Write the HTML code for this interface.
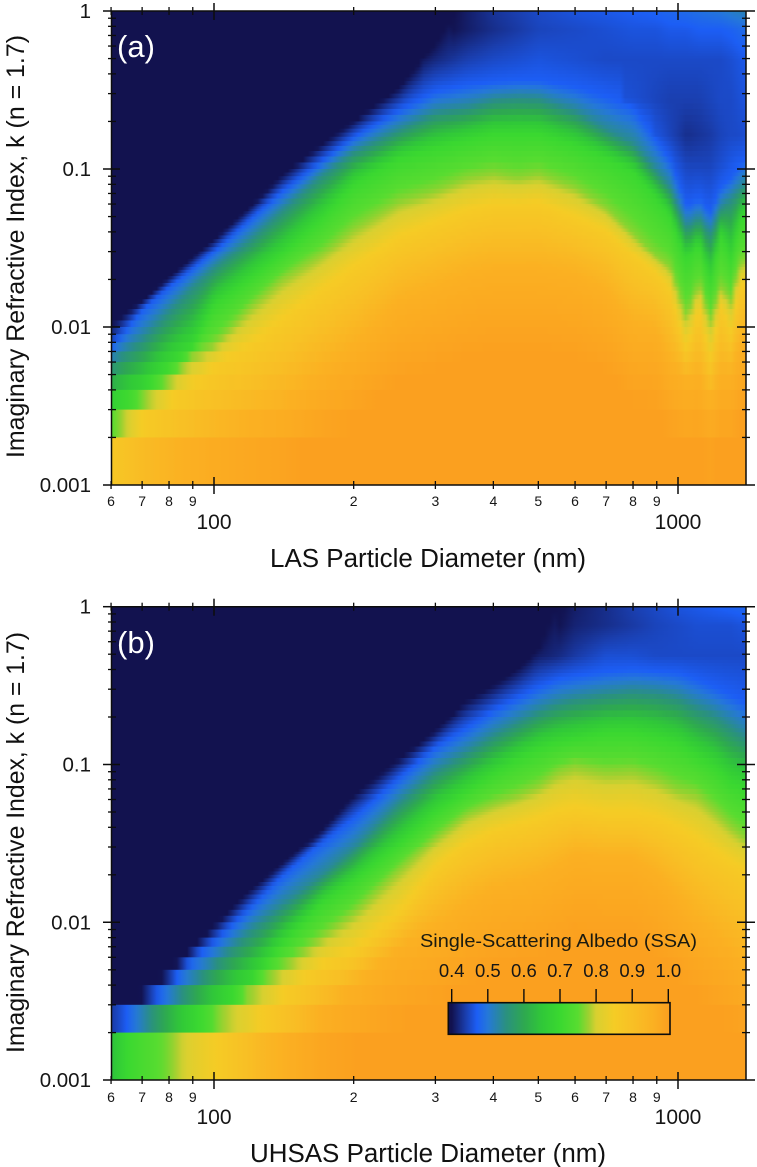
<!DOCTYPE html>
<html lang="en">
<head>
<meta charset="utf-8">
<title>Single-Scattering Albedo vs Particle Diameter and Refractive Index</title>
<style>
html,body{margin:0;padding:0;background:#fff;}
#figure{display:block;width:757px;height:1167px;font-family:"Liberation Sans",sans-serif;}
</style>
</head>
<body>
<svg id="figure" xmlns="http://www.w3.org/2000/svg" width="757" height="1167" viewBox="0 0 757 1167">
  <defs id="gradients"></defs>
  <g id="panel-a"></g>
  <g id="panel-b"></g>
  <text x="117" y="57" font-size="31" fill="#fff">(a)</text>
  <text x="117" y="653" font-size="31" fill="#fff">(b)</text>
  <text x="428" y="567" font-size="25.5" text-anchor="middle" textLength="316" lengthAdjust="spacingAndGlyphs" fill="#111">LAS Particle Diameter (nm)</text>
  <text x="428" y="1162" font-size="25.5" text-anchor="middle" textLength="356" lengthAdjust="spacingAndGlyphs" fill="#111">UHSAS Particle Diameter (nm)</text>
  <text transform="translate(24 246.5) rotate(-90)" font-size="25" text-anchor="middle" textLength="423" lengthAdjust="spacingAndGlyphs" fill="#111">Imaginary Refractive Index, k (n = 1.7)</text>
  <text transform="translate(24 842.5) rotate(-90)" font-size="25" text-anchor="middle" textLength="421" lengthAdjust="spacingAndGlyphs" fill="#111">Imaginary Refractive Index, k (n = 1.7)</text>
  <g id="legend">
    <text x="558.5" y="947" font-size="18.5" text-anchor="middle" textLength="277" lengthAdjust="spacingAndGlyphs" fill="#1a1a10">Single-Scattering Albedo (SSA)</text>
  </g>
</svg>
<script>
// ---- axis tick data ----
const xMajorTicks = [100, 1000];
const xMajorLabels = ["100", "1000"];
const xMinorTicks = [60, 70, 80, 90, 200, 300, 400, 500, 600, 700, 800, 900];
const xMinorLabels = ["6", "7", "8", "9", "2", "3", "4", "5", "6", "7", "8", "9"];
const yMajorTicks = [1, 0.1, 0.01, 0.001];
const yMajorLabels = ["1", "0.1", "0.01", "0.001"];
const yMinorTicks = [0.9, 0.8, 0.7, 0.6, 0.5, 0.4, 0.3, 0.2, 0.09, 0.08, 0.07, 0.06, 0.05, 0.04, 0.03, 0.02, 0.009, 0.008, 0.007, 0.006, 0.005, 0.004, 0.003, 0.002];

// ---- colour scale: SSA level -> colour ----
const colorLevels = [0.40, 0.44, 0.47, 0.50, 0.55, 0.60, 0.65, 0.70, 0.75, 0.78, 0.80, 0.85, 0.90, 0.96, 1.00];
const colorValues = ["#12124f", "#1a3fb0", "#1c5ef5", "#2578d8", "#2a9080", "#2ea850", "#30c838", "#3ad830", "#58dc30", "#a0d030", "#d8d030", "#f5cc25", "#f8c025", "#fbb022", "#fba01f"];
const legendTicks = [0.4, 0.5, 0.6, 0.7, 0.8, 0.9, 1.0];
const legendLabels = ["0.4", "0.5", "0.6", "0.7", "0.8", "0.9", "1.0"];

// ---- Panel (a) LAS: log10(k) at which SSA reaches each level, per diameter ----
const diameterA = [60,70,80,90,100,120,140,170,200,250,300,350,400,450,500,600,700,800,900,960,1045,1110,1172,1240,1306,1350,1400];
const logK96A = [-3.47,-3.22,-3.09,-2.97,-2.87,-2.715,-2.59,-2.335,-2.145,-1.86,-1.765,-1.68,-1.64,-1.64,-1.64,-1.68,-1.785,-2.0,-2.04,-2.25,-2.40,-2.35,-2.55,-2.35,-2.35,-2.19,-2.08];
const logK86A = [-2.95,-2.72,-2.56,-2.43,-2.30,-2.16,-1.99,-1.80,-1.65,-1.45,-1.355,-1.28,-1.24,-1.24,-1.23,-1.32,-1.405,-1.56,-1.68,-1.785,-2.19,-1.89,-2.255,-1.89,-2.08,-1.785,-1.75];
const logK77A = [-2.76,-2.53,-2.385,-2.21,-2.14,-1.88,-1.70,-1.54,-1.37,-1.2,-1.13,-1.05,-1.02,-1.05,-1.025,-1.11,-1.24,-1.405,-1.56,-1.62,-1.955,-1.72,-1.975,-1.75,-1.85,-1.62,-1.58];
const logK70A = [-2.58,-2.45,-2.28,-2.15,-1.88,-1.70,-1.545,-1.32,-1.10,-0.94,-0.87,-0.82,-0.78,-0.78,-0.78,-0.85,-0.93,-1.02,-1.19,-1.30,-1.59,-1.47,-1.72,-1.42,-1.59,-1.355,-1.28];
const logK54A = [-2.26,-2.10,-1.91,-1.75,-1.63,-1.44,-1.26,-1.04,-0.89,-0.75,-0.64,-0.61,-0.56,-0.545,-0.55,-0.63,-0.75,-0.835,-1.01,-1.11,-1.37,-1.30,-1.405,-1.24,-1.18,-1.13,-1.09];
const logK47A = [-2.155,-1.91,-1.76,-1.64,-1.525,-1.315,-1.145,-0.955,-0.80,-0.63,-0.51,-0.47,-0.45,-0.44,-0.44,-0.48,-0.54,-0.61,-0.82,-0.94,-1.24,-1.18,-1.28,-1.11,-1.05,-0.99,-0.94];
const logK40A = [-2.01,-1.85,-1.70,-1.57,-1.45,-1.24,-1.045,-0.85,-0.70,-0.49,-0.215,0.1,0.3,0.5,0.5,0.5,0.5,0.5,0.5,0.5,0.5,0.5,0.5,0.5,0.5,0.5,0.5];
// SSA read directly in the blue upper region, at fixed k rows
const topKA = [1, 0.76, 0.49, 0.275, 0.164, 0.106];
const ssaTop1A = [0.3,0.3,0.3,0.3,0.3,0.3,0.3,0.3,0.3,0.3,0.38,0.41,0.43,0.44,0.45,0.46,0.465,0.47,0.475,0.48,0.485,0.49,0.495,0.50,0.51,0.515,0.52];
const ssaTop2A = [0.3,0.3,0.3,0.3,0.3,0.3,0.3,0.3,0.3,0.3,0.39,0.41,0.425,0.435,0.445,0.45,0.455,0.46,0.46,0.465,0.465,0.47,0.47,0.47,0.475,0.48,0.485];
const ssaTop3A = [0.3,0.3,0.3,0.3,0.3,0.3,0.3,0.3,0.3,0.38,0.42,0.44,0.45,0.455,0.46,0.455,0.45,0.45,0.45,0.45,0.45,0.45,0.45,0.45,0.455,0.46,0.465];
const ssaTop4A = [0.3,0.3,0.3,0.3,0.3,0.3,0.3,0.3,0.3,0.3,0.46,0.46,0.46,0.46,0.46,0.46,0.46,0.455,0.445,0.44,0.44,0.44,0.445,0.45,0.45,0.455,0.46];
const ssaTop5A = [0.3,0.3,0.3,0.3,0.3,0.3,0.3,0.3,0.3,0.3,0.46,0.46,0.46,0.46,0.46,0.46,0.46,0.46,0.46,0.445,0.425,0.43,0.435,0.445,0.45,0.45,0.455];
const ssaTop6A = [0.3,0.3,0.3,0.3,0.3,0.3,0.3,0.3,0.3,0.3,0.46,0.46,0.46,0.46,0.46,0.46,0.46,0.46,0.46,0.47,0.445,0.445,0.445,0.455,0.465,0.47,0.47];

// ---- Panel (b) UHSAS ----
const diameterB = [60,70,80,90,100,120,140,170,200,250,300,350,400,450,500,550,600,700,800,900,1000,1100,1200,1300,1400];
const logK96B = [-3.95,-3.85,-3.75,-3.6,-3.4,-3.2,-3.02,-2.68,-2.47,-2.2,-2.05,-1.9,-1.8,-1.76,-1.72,-1.65,-1.58,-1.6,-1.6,-1.7,-1.85,-2.0,-2.1,-2.2,-2.3];
const logK86B = [-3.5,-3.35,-3.22,-3.12,-3.05,-2.80,-2.55,-2.33,-2.23,-1.98,-1.68,-1.52,-1.44,-1.40,-1.36,-1.32,-1.30,-1.33,-1.33,-1.36,-1.42,-1.5,-1.58,-1.65,-1.70];
const logK77B = [-3.3,-3.13,-3.01,-2.87,-2.73,-2.50,-2.33,-2.12,-1.95,-1.67,-1.46,-1.31,-1.24,-1.19,-1.13,-1.04,-1.0,-1.04,-1.03,-1.08,-1.15,-1.18,-1.28,-1.38,-1.46];
const logK70B = [-3.08,-2.93,-2.83,-2.73,-2.62,-2.43,-2.17,-1.9,-1.75,-1.51,-1.30,-1.17,-1.06,-0.97,-0.90,-0.86,-0.84,-0.80,-0.80,-0.83,-0.87,-0.95,-1.02,-1.12,-1.16];
const logK54B = [-2.88,-2.73,-2.59,-2.44,-2.30,-2.07,-1.91,-1.72,-1.54,-1.24,-1.04,-0.92,-0.81,-0.73,-0.66,-0.61,-0.58,-0.55,-0.53,-0.54,-0.57,-0.63,-0.68,-0.75,-0.82];
const logK47B = [-2.78,-2.62,-2.46,-2.27,-2.155,-1.92,-1.72,-1.5,-1.34,-1.09,-0.89,-0.77,-0.66,-0.58,-0.51,-0.46,-0.44,-0.41,-0.40,-0.41,-0.42,-0.46,-0.51,-0.56,-0.61];
const logK40B = [-2.62,-2.52,-2.35,-2.19,-2.05,-1.81,-1.64,-1.43,-1.20,-0.97,-0.79,-0.60,-0.50,-0.40,-0.28,0.02,0.3,0.5,0.5,0.5,0.5,0.5,0.5,0.5,0.5];
const topKB = [1, 0.76, 0.49];
const ssaTop1B = [0.3,0.3,0.3,0.3,0.3,0.3,0.3,0.3,0.3,0.3,0.3,0.3,0.3,0.3,0.38,0.395,0.41,0.425,0.44,0.45,0.46,0.465,0.47,0.475,0.48];
const ssaTop2B = [0.3,0.3,0.3,0.3,0.3,0.3,0.3,0.3,0.3,0.3,0.3,0.3,0.3,0.3,0.385,0.40,0.415,0.425,0.435,0.445,0.45,0.455,0.455,0.455,0.46];
const ssaTop3B = [0.3,0.3,0.3,0.3,0.3,0.3,0.3,0.3,0.3,0.3,0.3,0.3,0.3,0.38,0.41,0.42,0.435,0.455,0.455,0.45,0.45,0.45,0.45,0.45,0.45];

const contourLevels = [0.96, 0.86, 0.77, 0.70, 0.54, 0.47, 0.40];

// ---- scales ----
const NS = "http://www.w3.org/2000/svg";
const xLeft = 111.5, xRight = 746;
function xScale(d) { return 214 + 464 * Math.log10(d / 100); }
function xScaleInv(x) { return 100 * Math.pow(10, (x - 214) / 464); }
function yScaleFor(top, perDecade) { return function (k) { return top - perDecade * Math.log10(k); }; }
function legendX(v) { return 451.7 + (v - 0.4) * (668.3 - 451.7) / 0.6; }

function hexToRgb(h) { return [parseInt(h.substr(1, 2), 16), parseInt(h.substr(3, 2), 16), parseInt(h.substr(5, 2), 16)]; }
const colorRgb = colorValues.map(hexToRgb);
function ssaColor(s) {
  if (s <= colorLevels[0]) return colorValues[0];
  const n = colorLevels.length;
  if (s >= colorLevels[n - 1]) return colorValues[n - 1];
  let i = 0;
  while (s > colorLevels[i + 1]) i++;
  const t = (s - colorLevels[i]) / (colorLevels[i + 1] - colorLevels[i]);
  const a = colorRgb[i], b = colorRgb[i + 1];
  return "rgb(" + Math.round(a[0] + (b[0] - a[0]) * t) + "," + Math.round(a[1] + (b[1] - a[1]) * t) + "," + Math.round(a[2] + (b[2] - a[2]) * t) + ")";
}

function interpAcross(logDs, values, lg) {
  let i = 0;
  while (i < logDs.length - 2 && lg > logDs[i + 1]) i++;
  const t = (lg - logDs[i]) / (logDs[i + 1] - logDs[i]);
  return values[i] + (values[i + 1] - values[i]) * t;
}

// vertical SSA profile at one diameter: knots sorted by log10(k)
function columnKnots(panel, lg) {
  const c96 = interpAcross(panel.logDs, panel.contours[0], lg);
  const knots = [{ lk: c96 - 0.55, s: 1 }];
  const c47 = interpAcross(panel.logDs, panel.contours[5], lg);
  const c40 = interpAcross(panel.logDs, panel.contours[6], lg);
  contourLevels.forEach(function (level, i) {
    knots.push({ lk: interpAcross(panel.logDs, panel.contours[i], lg), s: level });
  });
  panel.topK.forEach(function (k, i) {
    const lk = Math.log10(k);
    const v = interpAcross(panel.logDs, panel.top[i], lg);
    if (lk <= c47 + 0.02) return;
    if (v < 0.40 && lk < c40) return;
    if (v > 0.40 && lk > c40) return;
    knots.push({ lk: lk, s: v });
  });
  knots.sort(function (a, b) { return a.lk - b.lk; });
  return knots;
}
function evalKnots(knots, lk) {
  if (lk <= knots[0].lk) return knots[0].s;
  for (let i = 0; i < knots.length - 1; i++) {
    if (lk <= knots[i + 1].lk) {
      const t = (lk - knots[i].lk) / (knots[i + 1].lk - knots[i].lk);
      return knots[i].s + (knots[i + 1].s - knots[i].s) * t;
    }
  }
  return knots[knots.length - 1].s;
}

function svgEl(tag, attrs) {
  const el = document.createElementNS(NS, tag);
  for (const key in attrs) el.setAttribute(key, attrs[key]);
  return el;
}

const defs = document.getElementById("gradients");

function drawHeatmap(group, panel, yScale) {
  const logDmin = Math.log10(xScaleInv(xLeft)), logDmax = Math.log10(xScaleInv(xRight));
  const N = 126;
  const columns = [];
  for (let i = 0; i <= N; i++) {
    columns.push(columnKnots(panel, logDmin + (logDmax - logDmin) * i / N));
  }
  const rows = [];
  let m = 1;
  while (m < 1000) {
    const step = m < 30 ? 1 : m < 60 ? 2 : m < 100 ? 5 : m < 200 ? 10 : 20;
    rows.push([m / 1000, Math.min(m + step, 1000) / 1000]);
    m += step;
  }
  const heat = svgEl("g", {});
  
  
  for (let r = rows.length - 1; r >= 0; r--) {
    const lo = rows[r][0], hi = rows[r][1];
    const sampleK = lo < 0.03 ? lo : Math.sqrt(lo * hi);
    const id = panel.name + "-row-" + r;
    const grad = svgEl("linearGradient", { id: id, gradientUnits: "userSpaceOnUse", x1: xLeft, x2: xRight, y1: 0, y2: 0 });
    for (let i = 0; i <= N; i++) {
      const s = evalKnots(columns[i], Math.log10(sampleK));
      grad.appendChild(svgEl("stop", { offset: (i / N).toFixed(4), "stop-color": ssaColor(s) }));
    }
    defs.appendChild(grad);
    const yTop = yScale(hi), yBot = yScale(lo);
    const extra = r === 0 ? 0 : 1;
    const rect = svgEl("rect", { x: xLeft, y: yTop.toFixed(2), width: xRight - xLeft, height: (yBot - yTop + extra).toFixed(2), fill: "url(#" + id + ")" });
    
    
    heat.appendChild(rect);
  }
  group.appendChild(heat);
}

function line(group, x1, y1, x2, y2, w, name) {
  const l = svgEl("line", { x1: x1, y1: y1, x2: x2, y2: y2, stroke: "#0c0c0c", "stroke-width": w });
  
  
  group.appendChild(l);
}
function label(group, x, y, txt, size, anchor, name) {
  const t = svgEl("text", { x: x, y: y, "font-size": size, "text-anchor": anchor, fill: "#161616" });
  t.textContent = txt;
  
  
  group.appendChild(t);
}

function drawAxes(group, yScale, top, bottom, minorBase, majorBase) {
  line(group, xLeft, top, 755, top, 1.5, "top-axis-line");
  line(group, 103, bottom, 755, bottom, 1.5, "bottom-axis-line");
  line(group, xLeft, top, xLeft, bottom, 1.5, "left-axis-line");
  line(group, xRight, top, xRight, bottom, 1.5, "right-axis-line");
  line(group, 103, top, xLeft, top, 1.5, "y-tick-1");
  xMinorTicks.forEach(function (d, i) {
    const x = xScale(d);
    line(group, x, top - 4, x, top + 4, 1.3, "x-minor-tick-top");
    line(group, x, bottom - 4, x, bottom + 4, 1.3, "x-minor-tick-bottom");
    label(group, x, minorBase, xMinorLabels[i], 14, "middle", "x-minor-tick-label");
  });
  xMajorTicks.forEach(function (d, i) {
    const x = xScale(d);
    line(group, x, top - 8, x, top + 9, 1.5, "x-major-tick-top");
    line(group, x, bottom - 8, x, bottom + 9, 1.5, "x-major-tick-bottom");
    label(group, x, majorBase, xMajorLabels[i], 21, "middle", "x-major-tick-label");
  });
  yMinorTicks.forEach(function (k) {
    const y = yScale(k);
    line(group, 108, y, 116, y, 1.3, "y-minor-tick-left");
    line(group, 742, y, 750, y, 1.3, "y-minor-tick-right");
  });
  yMajorTicks.forEach(function (k, i) {
    const y = yScale(k);
    if (k !== 1 && k !== 0.001) {
      line(group, 103, y, 120, y, 1.5, "y-major-tick-left");
      line(group, 737, y, 755, y, 1.5, "y-major-tick-right");
    }
    label(group, 91, y + 7, yMajorLabels[i], 20.5, "end", "y-major-tick-label");
  });
}

const panelA = {
  name: "panel-a",
  logDs: diameterA.map(Math.log10),
  contours: [logK96A, logK86A, logK77A, logK70A, logK54A, logK47A, logK40A],
  topK: topKA,
  top: [ssaTop1A, ssaTop2A, ssaTop3A, ssaTop4A, ssaTop5A, ssaTop6A]
};
const panelB = {
  name: "panel-b",
  logDs: diameterB.map(Math.log10),
  contours: [logK96B, logK86B, logK77B, logK70B, logK54B, logK47B, logK40B],
  topK: topKB,
  top: [ssaTop1B, ssaTop2B, ssaTop3B]
};

const yA = yScaleFor(11, 158);
const yB = yScaleFor(606.7, 157.8);
const groupA = document.getElementById("panel-a");
const groupB = document.getElementById("panel-b");
drawHeatmap(groupA, panelA, yA);
drawAxes(groupA, yA, 11, 485, 506, 529);
drawHeatmap(groupB, panelB, yB);
drawAxes(groupB, yB, 606.7, 1080, 1102, 1124);

// ---- colour bar ----
const legend = document.getElementById("legend");
const barGrad = svgEl("linearGradient", { id: "colorbar-gradient", gradientUnits: "userSpaceOnUse", x1: legendX(0.4), x2: legendX(1.0), y1: 0, y2: 0 });
colorLevels.forEach(function (lv, i) {
  barGrad.appendChild(svgEl("stop", { offset: ((lv - 0.4) / 0.6).toFixed(4), "stop-color": colorValues[i] }));
});
defs.appendChild(barGrad);
const bar = svgEl("rect", { x: 448.3, y: 1002.7, width: 221.7, height: 31.6, fill: "url(#colorbar-gradient)", stroke: "#0c0c0c", "stroke-width": 1.6 });


legend.appendChild(bar);
legendTicks.forEach(function (v, i) {
  const x = legendX(v);
  line(legend, x, 989, x, 1002.7, 1.4, "colorbar-tick");
  label(legend, x, 977, legendLabels[i], 18.5, "middle", "colorbar-tick-label");
});
</script>
</body>
</html>
